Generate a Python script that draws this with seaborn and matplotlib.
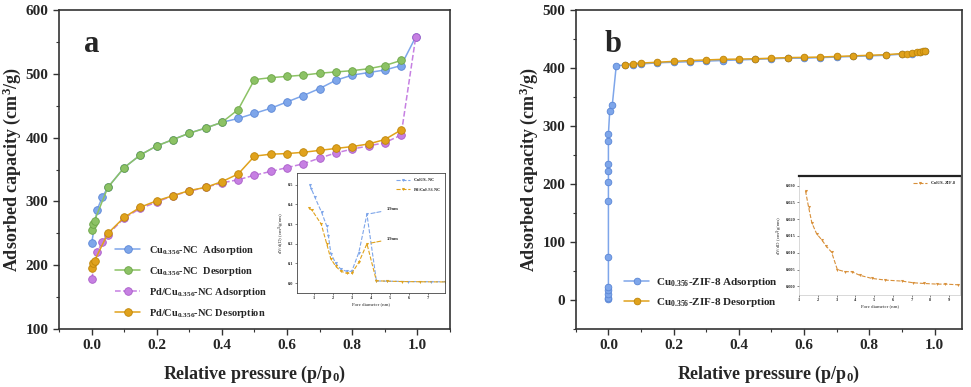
import matplotlib
matplotlib.use("Agg")
import matplotlib.pyplot as plt
import seaborn as sns
import numpy as np
from matplotlib.ticker import MultipleLocator

# ---- panel a: isotherms ----
p_cu_ads = [0.0, 0.017, 0.033, 0.05, 0.1, 0.15, 0.2, 0.25, 0.3, 0.35, 0.4, 0.45, 0.5, 0.55,
            0.6, 0.65, 0.7, 0.75, 0.8, 0.85, 0.9, 0.95, 0.995]
v_cu_ads = [234, 287, 307, 322, 353, 373, 387, 397, 407, 415, 424, 430, 438, 446,
            456, 466, 477, 490, 498, 502, 506, 513, 558]
p_cu_des = [0.0, 0.004, 0.009, 0.05, 0.1, 0.15, 0.2, 0.25, 0.3, 0.35, 0.4, 0.45, 0.5, 0.55,
            0.6, 0.65, 0.7, 0.75, 0.8, 0.85, 0.9, 0.95]
v_cu_des = [255, 264, 270, 322, 353, 373, 387, 397, 407, 415, 424, 444, 491, 494,
            496, 498, 501, 503, 505, 508, 513, 521]
p_pd_ads = [0.0, 0.017, 0.033, 0.05, 0.1, 0.15, 0.2, 0.25, 0.3, 0.35, 0.4, 0.45, 0.5, 0.55,
            0.6, 0.65, 0.7, 0.75, 0.8, 0.85, 0.9, 0.95, 0.995]
v_pd_ads = [178, 220, 237, 248, 274, 289, 299, 309, 316, 322, 329, 334, 341, 347,
            353, 359, 368, 376, 382, 387, 392, 404, 558]
p_pd_des = [0.0, 0.004, 0.009, 0.05, 0.1, 0.15, 0.2, 0.25, 0.3, 0.35, 0.4, 0.45, 0.5, 0.55,
            0.6, 0.65, 0.7, 0.75, 0.8, 0.85, 0.9, 0.95]
v_pd_des = [195, 203, 207, 250, 275, 291, 301, 309, 317, 322, 331, 343, 371, 374,
            375, 377, 380, 383, 386, 390, 397, 412]

# inset a: pore size distribution
d_cu = [0.79, 0.87, 1.04, 1.41, 1.68, 1.77, 1.9, 2.16, 2.43, 2.73, 3.0, 3.37, 3.8, 4.3, 4.87, 5.97, 7.16, 7.9]
dv_cu = [0.50, 0.48, 0.44, 0.36, 0.29, 0.24, 0.15, 0.10, 0.07, 0.06, 0.06, 0.155, 0.35, 0.011, 0.010, 0.008, 0.007, 0.007]
d_pd = [0.77, 0.91, 1.39, 1.68, 1.89, 2.16, 2.43, 2.73, 3.0, 3.37, 3.8, 4.3, 4.87, 5.66, 6.6, 7.9]
dv_pd = [0.38, 0.37, 0.30, 0.20, 0.125, 0.085, 0.06, 0.05, 0.05, 0.105, 0.20, 0.012, 0.010, 0.008, 0.007, 0.006]

# ---- panel b: ZIF-8 isotherm ----
p_zif_ads = [0.0, 0.0, 0.0, 0.0, 0.0, 0.0, 0.0, 0.0, 0.0, 0.0, 0.0, 0.0, 0.004, 0.012, 0.024,
             0.05, 0.075, 0.1, 0.15, 0.2, 0.25, 0.3, 0.35, 0.4, 0.45, 0.5, 0.55, 0.6, 0.65,
             0.7, 0.75, 0.8, 0.85, 0.9, 0.93, 0.955, 0.97]
v_zif_ads = [2, 4, 11, 17, 22, 74, 170, 204, 223, 234, 275, 286, 326, 337, 404,
             405, 406, 407, 409, 410, 411, 412, 413, 414, 415, 416, 417, 417, 418,
             419, 420, 421, 422, 424, 425, 427, 429]
p_zif_des = [0.05, 0.075, 0.1, 0.15, 0.2, 0.25, 0.3, 0.35, 0.4, 0.45, 0.5, 0.55, 0.6, 0.65,
             0.7, 0.75, 0.8, 0.85, 0.9, 0.915, 0.93, 0.945, 0.955, 0.965, 0.97]
v_zif_des = [406, 407.5, 408.6, 410, 411.5, 413, 414, 415, 415.5, 416, 417, 418, 418.4, 419,
             420, 421, 422, 423, 425, 425, 426, 427, 428, 430, 430]

# inset b
d_zif = [1.34, 1.5, 1.68, 1.93, 2.2, 2.46, 2.73, 3.04, 3.45, 3.8, 4.25, 4.88, 5.6, 6.48, 7.1, 7.64, 8.36, 8.8, 9.5]
dv_zif = [0.0284, 0.0237, 0.0189, 0.0157, 0.0139, 0.0119, 0.0102, 0.0050, 0.0044, 0.0044, 0.0033,
          0.0024, 0.0019, 0.0016, 0.0011, 0.0009, 0.0007, 0.0007, 0.0005]

blue, green, purple, orange = "#7ea6ea", "#8cc265", "#c680e2", "#e0a21c"
edge = {blue: "#5a86d6", green: "#6ba445", purple: "#a95cc8", orange: "#bf8508"}

sns.set_style("ticks")
plt.rcParams["font.family"] = ["Liberation Serif", "DejaVu Serif"]
plt.rcParams["font.weight"] = "bold"
plt.rcParams["mathtext.fontset"] = "custom"
plt.rcParams["mathtext.rm"] = "Liberation Serif:bold"
plt.rcParams["mathtext.it"] = "Liberation Serif:bold"
plt.rcParams["mathtext.bf"] = "Liberation Serif:bold"
plt.rcParams["mathtext.default"] = "rm"

fig = plt.figure(figsize=(9.71, 3.87), dpi=100)
ax1 = fig.add_axes([0.0608, 0.150, 0.4026, 0.824])
ax2 = fig.add_axes([0.593, 0.150, 0.398, 0.824])


def iso(ax, x, y, c, label, ls="-", ms=5.5):
    sns.lineplot(x=x, y=y, ax=ax, sort=False, estimator=None, color=c, lw=1.1, ls=ls,
                 marker="o", markersize=ms, markerfacecolor=c, markeredgecolor=edge[c],
                 markeredgewidth=0.6, label=label)


def style_main(ax):
    for s in ax.spines.values():
        s.set_linewidth(1.2)
        s.set_color("#333333")
    ax.xaxis.set_major_locator(MultipleLocator(0.2))
    ax.xaxis.set_minor_locator(MultipleLocator(0.1))
    ax.tick_params(axis="both", which="major", direction="out", length=4, width=1.0,
                   labelsize=11, color="#333333")
    ax.tick_params(axis="both", which="minor", direction="out", length=2.5, width=0.8,
                   color="#333333")
    for lab in ax.get_xticklabels() + ax.get_yticklabels():
        lab.set_fontweight("bold")
    ax.set_xlabel("Relative pressure (p/p$_0$)", fontsize=13, fontweight="bold", labelpad=8)
    ax.set_ylabel("Adsorbed capacity (cm$^3$/g)", fontsize=13, fontweight="bold", labelpad=2)


# panel a
iso(ax1, p_cu_ads, v_cu_ads, blue, "Cu$_{0.356}$-NC  Adsorption")
iso(ax1, p_cu_des, v_cu_des, green, "Cu$_{0.356}$-NC  Desorption")
iso(ax1, p_pd_ads, v_pd_ads, purple, "Pd/Cu$_{0.356}$-NC Adsorption", ls="--")
iso(ax1, p_pd_des, v_pd_des, orange, "Pd/Cu$_{0.356}$-NC Desorption")
ax1.set_xlim(-0.1, 1.1)
ax1.set_ylim(100, 600)
ax1.yaxis.set_major_locator(MultipleLocator(100))
ax1.yaxis.set_minor_locator(MultipleLocator(50))
style_main(ax1)
ax1.text(0.065, 0.87, "a", transform=ax1.transAxes, fontsize=22, fontweight="bold")
ax1.legend(loc="lower left", bbox_to_anchor=(0.12, 0.0), frameon=False,
           handlelength=2.4, labelspacing=0.75, prop={"weight": "bold", "size": 7.5})

# panel b
iso(ax2, p_zif_ads, v_zif_ads, blue, "Cu$_{0.356}$-ZIF-8 Adsorption", ms=4.8)
iso(ax2, p_zif_des, v_zif_des, orange, "Cu$_{0.356}$-ZIF-8 Desorption", ms=4.8)
ax2.set_xlim(-0.1, 1.085)
ax2.set_ylim(-50, 500)
ax2.yaxis.set_major_locator(MultipleLocator(100))
ax2.yaxis.set_minor_locator(MultipleLocator(50))
style_main(ax2)
ax2.text(0.075, 0.87, "b", transform=ax2.transAxes, fontsize=22, fontweight="bold")
ax2.legend(loc="lower left", bbox_to_anchor=(0.1, 0.03), frameon=False,
           handlelength=2.2, handletextpad=0.6, labelspacing=0.7,
           prop={"weight": "bold", "size": 8})

# inset a
ia = fig.add_axes([0.306, 0.243, 0.152, 0.31])
sns.lineplot(x=d_cu, y=dv_cu, ax=ia, sort=False, estimator=None, color=blue, lw=0.8, ls="--",
             marker="v", markersize=2.2, markeredgewidth=0, label="Cu$_{0.356}$-NC")
sns.lineplot(x=d_pd, y=dv_pd, ax=ia, sort=False, estimator=None, color=orange, lw=0.8, ls="--",
             marker="v", markersize=2.2, markeredgewidth=0, label="Pd/Cu$_{0.356}$-NC")
ia.annotate("3.9nm", xy=(3.8, 0.35), xytext=(4.85, 0.37), fontsize=3.2,
            arrowprops=dict(arrowstyle="-", ls="--", color=blue, lw=0.8))
ia.annotate("3.9nm", xy=(3.8, 0.20), xytext=(4.85, 0.22), fontsize=3.2,
            arrowprops=dict(arrowstyle="-", ls="--", color=orange, lw=0.8))
ia.set_xlim(0.12, 7.9)
ia.set_ylim(-0.05, 0.56)
ia.set_xticks(range(1, 8))
ia.set_yticks([0.0, 0.1, 0.2, 0.3, 0.4, 0.5])
ia.set_xlabel("Pore diameter (nm)", fontsize=3.5, labelpad=1)
ia.set_ylabel("dV/d(D) (cm$^3$/g/nm)", fontsize=3.5, labelpad=1)
ia.tick_params(labelsize=3.2, length=1.5, width=0.4, pad=1)
for s in ia.spines.values():
    s.set_linewidth(0.6)
    s.set_color("#444444")
ia.legend(loc="upper right", frameon=False, fontsize=3.2, handlelength=3, borderaxespad=0.3)

# inset b
ib = fig.add_axes([0.823, 0.238, 0.166, 0.307])
sns.lineplot(x=d_zif, y=dv_zif, ax=ib, sort=False, estimator=None, color="#d8903a", lw=0.8,
             ls="--", marker="v", markersize=2.2, markeredgewidth=0, label="Cu$_{0.356}$-ZIF-8")
ib.set_xlim(1, 9.6)
ib.set_ylim(-0.0025, 0.0328)
ib.set_xticks(range(1, 10))
ib.set_yticks([0.0, 0.005, 0.010, 0.015, 0.020, 0.025, 0.030])
ib.set_yticklabels(["0.000", "0.005", "0.010", "0.015", "0.020", "0.025", "0.030"])
ib.set_xlabel("Pore diameter (nm)", fontsize=3.5, labelpad=1)
ib.set_ylabel("dV/dD (cm$^3$/g/nm)", fontsize=3.5, labelpad=1)
ib.tick_params(labelsize=3.2, length=1.5, width=0.4, pad=1)
for s in ib.spines.values():
    s.set_linewidth(0.4)
    s.set_color("#bbbbbb")
ib.spines["top"].set_linewidth(1.6)
ib.spines["top"].set_color("#222222")
ib.legend(loc="upper right", frameon=False, fontsize=3.2, handlelength=3, borderaxespad=0.3)

fig.savefig("out.png", dpi=100)
